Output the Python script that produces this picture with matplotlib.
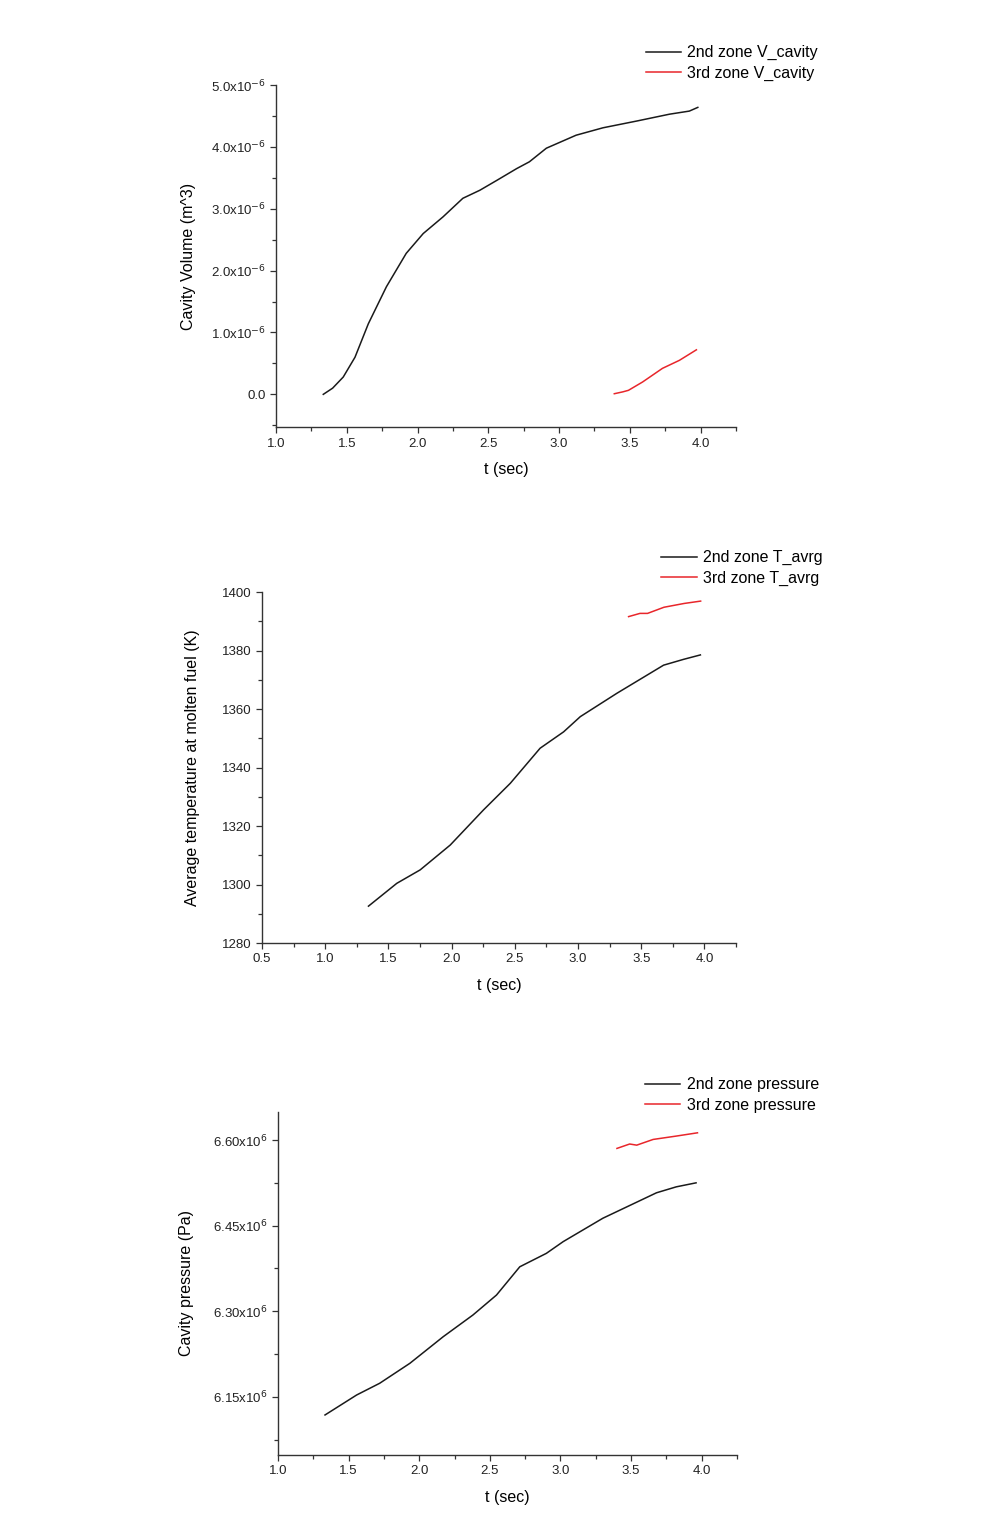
import matplotlib
matplotlib.use("Agg")
import matplotlib.pyplot as plt
from matplotlib.ticker import MultipleLocator, AutoMinorLocator, FuncFormatter

plt.rcParams['font.family'] = ['Liberation Sans', 'DejaVu Sans']

# ---- Panel 1: cavity volume (x1e-6 m^3) ----
t_v2 = [1.334, 1.40, 1.475, 1.558, 1.652, 1.78, 1.92, 2.04, 2.18, 2.32, 2.44, 2.56,
        2.70, 2.79, 2.91, 3.12, 3.31, 3.55, 3.78, 3.92, 3.98]
v2 = [0.0, 0.10, 0.28, 0.60, 1.14, 1.74, 2.28, 2.60, 2.87, 3.17, 3.30, 3.46,
      3.65, 3.76, 3.98, 4.19, 4.31, 4.42, 4.53, 4.58, 4.64]
t_v3 = [3.39, 3.45, 3.49, 3.59, 3.73, 3.85, 3.97]
v3 = [0.01, 0.04, 0.065, 0.20, 0.42, 0.55, 0.72]

# ---- Panel 2: average temperature (K) ----
t_T2 = [1.342, 1.566, 1.751, 1.989, 2.252, 2.464, 2.70, 2.886, 3.018, 3.308, 3.677, 3.836, 3.968]
T2 = [1292.6, 1300.4, 1305.0, 1313.5, 1325.5, 1334.6, 1346.6, 1352.2, 1357.4, 1365.4, 1375.0, 1377.0, 1378.5]
t_T3 = [3.40, 3.49, 3.55, 3.68, 3.84, 3.97]
T3 = [1391.6, 1392.7, 1392.7, 1394.8, 1396.1, 1396.9]

# ---- Panel 3: cavity pressure (x1e6 Pa) ----
t_p2 = [1.333, 1.557, 1.72, 1.934, 2.17, 2.38, 2.547, 2.712, 2.90, 3.019, 3.30, 3.68, 3.82, 3.96]
p2 = [6.1185, 6.1535, 6.174, 6.209, 6.2556, 6.2935, 6.3285, 6.378, 6.4015, 6.422, 6.463, 6.5076, 6.518, 6.525]
t_p3 = [3.40, 3.49, 3.54, 3.656, 3.82, 3.97]
p3 = [6.5853, 6.593, 6.591, 6.601, 6.6069, 6.6126]

BLACK = '#1a1a1a'
RED = '#e8262b'

fig = plt.figure(figsize=(9.84, 15.2), dpi=100)

def style(ax, ylabelpad):
    for s in ['top', 'right']:
        ax.spines[s].set_visible(False)
    for s in ['left', 'bottom']:
        ax.spines[s].set_linewidth(1.0)
        ax.spines[s].set_color('#333333')
    ax.tick_params(which='major', length=4, width=0.9, labelsize=9.5, colors='#333333',
                   labelcolor='#222222')
    ax.tick_params(which='minor', length=3, width=0.9, colors='#333333')
    ax.xaxis.set_minor_locator(AutoMinorLocator(2))
    ax.yaxis.set_minor_locator(AutoMinorLocator(2))
    ax.set_xlabel('t (sec)', fontsize=11.5, labelpad=9)
    ax.yaxis.labelpad = ylabelpad

def legend(ax, x, y):
    ax.legend(loc='upper right', bbox_to_anchor=(x, y), frameon=False, fontsize=11.5,
              handlelength=2.2, handletextpad=0.4, labelspacing=0.35, borderaxespad=0)

# Panel 1
ax1 = fig.add_axes([0.2805, 0.719, 0.4675, 0.225])
ax1.plot(t_v2, [v * 1e-6 for v in v2], color=BLACK, lw=1.1, label='2nd zone V_cavity')
ax1.plot(t_v3, [v * 1e-6 for v in v3], color=RED, lw=1.1, label='3rd zone V_cavity')
ax1.set_xlim(1.0, 4.25)
ax1.set_ylim(-0.53e-6, 5.0e-6)
ax1.xaxis.set_major_locator(MultipleLocator(0.5))
ax1.yaxis.set_major_locator(MultipleLocator(1.0e-6))
ax1.yaxis.set_major_formatter(FuncFormatter(
    lambda v, p: '0.0' if abs(v) < 1e-12 else f'{v * 1e6:.1f}x10$^{{-6}}$'))
ax1.set_ylabel('Cavity Volume (m^3)', fontsize=11.5)
style(ax1, 10.5)
legend(ax1, 1.192, 1.135)

# Panel 2
ax2 = fig.add_axes([0.2663, 0.3796, 0.4817, 0.2309])
ax2.plot(t_T2, T2, color=BLACK, lw=1.1, label='2nd zone T_avrg')
ax2.plot(t_T3, T3, color=RED, lw=1.1, label='3rd zone T_avrg')
ax2.set_xlim(0.5, 4.25)
ax2.set_ylim(1280, 1400)
ax2.xaxis.set_major_locator(MultipleLocator(0.5))
ax2.yaxis.set_major_locator(MultipleLocator(20))
ax2.set_ylabel('Average temperature at molten fuel (K)', fontsize=11.5)
style(ax2, 16)
legend(ax2, 1.196, 1.137)

# Panel 3
ax3 = fig.add_axes([0.2825, 0.0428, 0.4665, 0.2256])
ax3.plot(t_p2, [p * 1e6 for p in p2], color=BLACK, lw=1.1, label='2nd zone pressure')
ax3.plot(t_p3, [p * 1e6 for p in p3], color=RED, lw=1.1, label='3rd zone pressure')
ax3.set_xlim(1.0, 4.25)
ax3.set_ylim(6.0485e6, 6.649e6)
ax3.xaxis.set_major_locator(MultipleLocator(0.5))
ax3.yaxis.set_major_locator(MultipleLocator(0.15e6))
ax3.yaxis.set_major_formatter(FuncFormatter(lambda v, p: f'{v / 1e6:.2f}x10$^{{6}}$'))
ax3.set_ylabel('Cavity pressure (Pa)', fontsize=11.5)
style(ax3, 13.5)
legend(ax3, 1.192, 1.12)

fig.savefig('out.png', dpi=100)
